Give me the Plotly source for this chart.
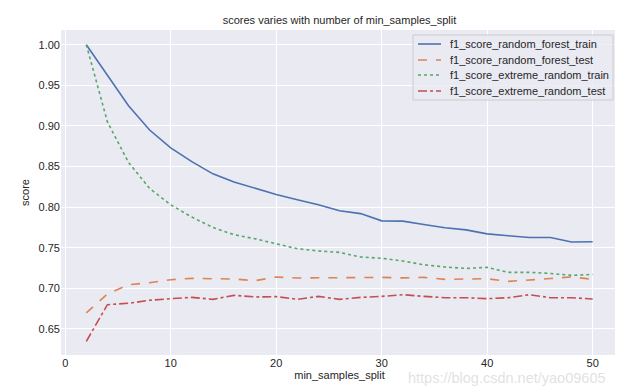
import plotly.graph_objects as go

min_samples_split = list(range(2, 51, 2))

rf_train = [1.000, 0.963, 0.925, 0.895, 0.873, 0.856, 0.841, 0.831, 0.823, 0.8155,
            0.809, 0.803, 0.7955, 0.792, 0.7831, 0.7827, 0.7786, 0.7745, 0.772, 0.767,
            0.7647, 0.7626, 0.7626, 0.757, 0.7573]
rf_test = [0.6696, 0.693, 0.7044, 0.7069, 0.7106, 0.7122, 0.7118, 0.7114, 0.7094, 0.7139,
           0.7127, 0.713, 0.7128, 0.713, 0.7134, 0.7128, 0.7134, 0.711, 0.711, 0.7118,
           0.7085, 0.710, 0.712, 0.714, 0.711]
et_train = [1.000, 0.905, 0.855, 0.823, 0.8028, 0.7877, 0.775, 0.766, 0.761, 0.755,
            0.7487, 0.746, 0.7442, 0.7385, 0.737, 0.7336, 0.729, 0.7262, 0.7245, 0.7257,
            0.7196, 0.7196, 0.7183, 0.7159, 0.7171]
et_test = [0.6347, 0.6798, 0.6815, 0.6852, 0.6872, 0.6888, 0.6864, 0.6913, 0.6893, 0.6897,
           0.6864, 0.690, 0.6864, 0.6888, 0.690, 0.6921, 0.690, 0.6884, 0.6884, 0.6872,
           0.6884, 0.6921, 0.6884, 0.6884, 0.6868]

series_names = ["f1_score_random_forest_train", "f1_score_random_forest_test",
                "f1_score_extreme_random_train", "f1_score_extreme_random_test"]
series_values = [rf_train, rf_test, et_train, et_test]
colors = ["#4c72b0", "#dd8452", "#55a868", "#c44e52"]
dashes = ["solid", "dash", "dot", "dashdot"]

FONT = "Liberation Sans, Arial, sans-serif"
W, H = 623, 388
L, R, T, B = 53, 13, 22, 41
PW, PH = W - L - R, H - T - B

def px(x):
    return (x - L) / PW

def py(y):
    return (H - B - y) / PH

fig = go.Figure()
for name, vals, color, dash in zip(series_names, series_values, colors, dashes):
    fig.add_trace(go.Scatter(
        x=min_samples_split, y=vals, mode="lines", name=name,
        line=dict(color=color, width=1.6, dash=dash), showlegend=False,
    ))

shapes = [dict(type="rect", xref="paper", yref="paper",
               x0=px(405), x1=px(605), y0=py(92), y1=py(27),
               fillcolor="rgba(234,234,242,0.8)", line=dict(color="#cccccc", width=1),
               layer="above")]
annotations = []
row_y = [36, 52, 67, 83]
for name, color, dash, yy in zip(series_names, colors, dashes, row_y):
    shapes.append(dict(type="line", xref="paper", yref="paper",
                       x0=px(410), x1=px(433), y0=py(yy), y1=py(yy),
                       line=dict(color=color, width=1.6, dash=dash), layer="above"))
    annotations.append(dict(text=name, xref="paper", yref="paper", x=px(440), y=py(yy),
                            xanchor="left", yanchor="middle", showarrow=False,
                            font=dict(size=11, color="#262626", family=FONT)))

annotations.append(dict(text="https://blog.csdn.net/yao09605", xref="paper", yref="paper",
                        x=px(398), y=py(370), xanchor="left", yanchor="middle", showarrow=False,
                        font=dict(size=14.5, color="rgba(205,205,205,0.6)", family=FONT)))

fig.update_layout(
    width=W, height=H,
    margin=dict(l=L, r=R, t=T, b=B),
    paper_bgcolor="white",
    plot_bgcolor="#eaeaf2",
    font=dict(family=FONT, size=11, color="#262626"),
    title=dict(text="scores varies with number of min_samples_split",
               x=(L + W - R) / 2 / W, xanchor="center", y=1 - 12 / H, yanchor="middle",
               font=dict(size=11, color="#262626")),
    showlegend=False,
    shapes=shapes,
    annotations=annotations,
    xaxis=dict(range=[-0.4, 52.4], tickvals=[0, 10, 20, 30, 40, 50],
               showgrid=True, gridcolor="white", gridwidth=1, zeroline=False,
               showline=False, ticks="", tickfont=dict(size=11, color="#262626"),
               title=dict(text="min_samples_split", font=dict(size=11), standoff=3)),
    yaxis=dict(range=[0.6178, 1.0182], tickvals=[0.65, 0.70, 0.75, 0.80, 0.85, 0.90, 0.95, 1.00],
               tickformat=".2f",
               showgrid=True, gridcolor="white", gridwidth=1, zeroline=False,
               showline=False, ticks="", tickfont=dict(size=11, color="#262626"),
               title=dict(text="score", font=dict(size=11), standoff=6)),
)

fig.write_html("out.html")
